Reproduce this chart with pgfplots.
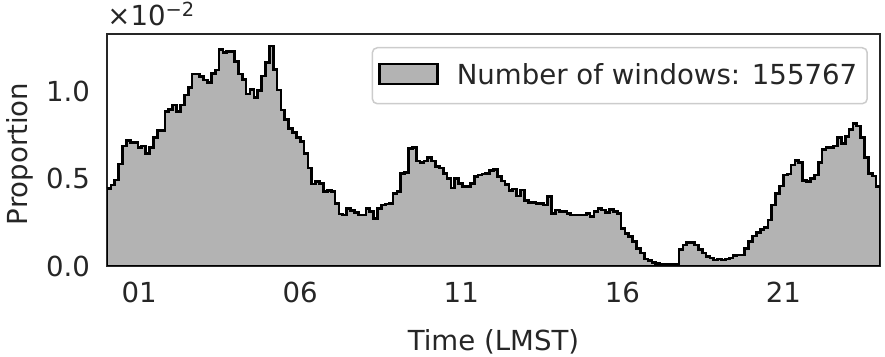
\documentclass[border=0pt]{standalone}
\usepackage{fontspec}
\setmainfont{DejaVu Sans}
\usepackage{pgfplots}
\usepackage{pgfplotstable}
\pgfplotsset{compat=1.18}
\definecolor{histgray}{HTML}{B3B3B3}
\definecolor{ink}{HTML}{262626}
\definecolor{legframe}{HTML}{CCCCCC}

% proportion per 0.12 h bin, in units of 1e-2 (left bin edge t)
\pgfplotstableread{
t p
0.00 0.444
0.12 0.463
0.24 0.491
0.36 0.583
0.48 0.686
0.60 0.716
0.72 0.705
0.84 0.705
0.96 0.678
1.08 0.686
1.20 0.644
1.32 0.678
1.44 0.735
1.56 0.773
1.68 0.773
1.80 0.882
1.92 0.895
2.04 0.920
2.16 0.882
2.28 0.920
2.40 0.977
2.52 1.021
2.64 1.097
2.76 1.097
2.88 1.082
3.00 1.063
3.12 1.048
3.24 1.101
3.36 1.120
3.48 1.238
3.60 1.219
3.72 1.225
3.84 1.225
3.96 1.168
4.08 1.097
4.20 1.067
4.32 0.983
4.44 1.010
4.56 0.964
4.68 1.002
4.80 1.086
4.92 1.165
5.04 1.257
5.16 1.124
5.28 1.006
5.40 0.891
5.52 0.837
5.64 0.787
5.76 0.762
5.88 0.735
6.00 0.710
6.12 0.644
6.24 0.560
6.36 0.469
6.48 0.482
6.60 0.472
6.72 0.425
6.84 0.431
6.96 0.425
7.08 0.358
7.20 0.297
7.32 0.291
7.44 0.329
7.56 0.316
7.68 0.305
7.80 0.291
7.92 0.291
8.04 0.329
8.16 0.310
8.28 0.272
8.40 0.329
8.52 0.348
8.64 0.354
8.76 0.358
8.88 0.415
9.00 0.425
9.12 0.530
9.24 0.533
9.36 0.672
9.48 0.678
9.60 0.600
9.72 0.590
9.84 0.600
9.96 0.620
10.08 0.600
10.20 0.570
10.32 0.560
10.44 0.530
10.56 0.500
10.68 0.445
10.80 0.500
10.92 0.470
11.04 0.455
11.16 0.455
11.28 0.470
11.40 0.510
11.52 0.520
11.64 0.525
11.76 0.530
11.88 0.545
12.00 0.550
12.12 0.510
12.24 0.485
12.36 0.465
12.48 0.430
12.60 0.440
12.72 0.400
12.84 0.434
12.96 0.373
13.08 0.362
13.20 0.362
13.32 0.358
13.44 0.358
13.56 0.349
13.68 0.396
13.80 0.301
13.92 0.320
14.04 0.310
14.16 0.310
14.28 0.300
14.40 0.291
14.52 0.291
14.64 0.291
14.76 0.291
14.88 0.300
15.00 0.282
15.12 0.311
15.24 0.329
15.36 0.320
15.48 0.305
15.60 0.324
15.72 0.311
15.84 0.300
15.96 0.215
16.08 0.185
16.20 0.168
16.32 0.140
16.44 0.100
16.56 0.075
16.68 0.040
16.80 0.030
16.92 0.020
17.04 0.015
17.16 0.012
17.28 0.012
17.40 0.010
17.52 0.010
17.64 0.012
17.76 0.095
17.88 0.120
18.00 0.135
18.12 0.135
18.24 0.120
18.36 0.095
18.48 0.075
18.60 0.055
18.72 0.045
18.84 0.035
18.96 0.040
19.08 0.035
19.20 0.040
19.32 0.045
19.44 0.060
19.56 0.063
19.68 0.063
19.80 0.101
19.92 0.139
20.04 0.171
20.16 0.190
20.28 0.210
20.40 0.220
20.52 0.263
20.64 0.349
20.76 0.415
20.88 0.457
21.00 0.520
21.12 0.525
21.24 0.577
21.36 0.602
21.48 0.590
21.60 0.490
21.72 0.482
21.84 0.500
21.96 0.520
22.08 0.590
22.20 0.667
22.32 0.678
22.44 0.678
22.56 0.686
22.68 0.735
22.80 0.700
22.92 0.739
23.04 0.781
23.16 0.815
23.28 0.800
23.40 0.735
23.52 0.620
23.64 0.530
23.76 0.515
23.88 0.453
24.00 0.453
}\hist

\begin{document}
\begin{tikzpicture}
\begin{axis}[name=ax, scale only axis, width=386.5pt, height=116pt,
 xmin=0, xmax=24, ymin=0, ymax=1.326,
 xtick={1,6,11,16,21}, xticklabels={01,06,11,16,21},
 ytick={0,0.5,1}, yticklabels={0.0,0.5,1.0},
 font=\fontsize{13.8}{16}\selectfont,
 major tick length=0pt,
 axis line style={draw=ink, line width=1.2pt},
 tick label style={text=ink},
 yticklabel style={xshift=-5pt},
 xticklabel style={yshift=-4.5pt},
 xlabel={Time (LMST)}, ylabel={Proportion},
 xlabel style={at={(axis description cs:0.5,0)}, anchor=base, yshift=-42.5pt, text=ink},
 ylabel style={at={(axis description cs:-0.1022,0.483)}, anchor=base, text=ink},
 legend style={at={(axis description cs:1,1)}, anchor=north east, xshift=-6pt, yshift=-6.5pt,
   draw=legframe, line width=0.75pt, rounded corners=2.5pt, fill=white,
   inner xsep=3pt, inner ysep=6pt, nodes={inner sep=2pt, text=ink}},
 legend image code/.code={\draw[sharp corners, fill=histgray, draw=black, line width=1.1pt] (0pt,-4.2pt) rectangle (29pt,5.8pt); \path (36pt,0pt);},
]
\addplot[const plot, fill=histgray, draw=black, line width=1.35pt] table[x=t,y=p]{\hist} \closedcycle;
\addlegendentry{Number of windows: 155767}
\end{axis}
\node[anchor=base west, inner sep=0pt, text=ink, font=\fontsize{13.8}{16}\selectfont] at ([yshift=4pt]ax.north west)
  {×10\raisebox{4.5pt}{\fontsize{9.7}{11}\selectfont −2}};
\pgfresetboundingbox
\path ([xshift=-53.5pt,yshift=-45.5pt]ax.south west) rectangle ([xshift=2.5pt,yshift=17pt]ax.north east);
\end{tikzpicture}
\end{document}
